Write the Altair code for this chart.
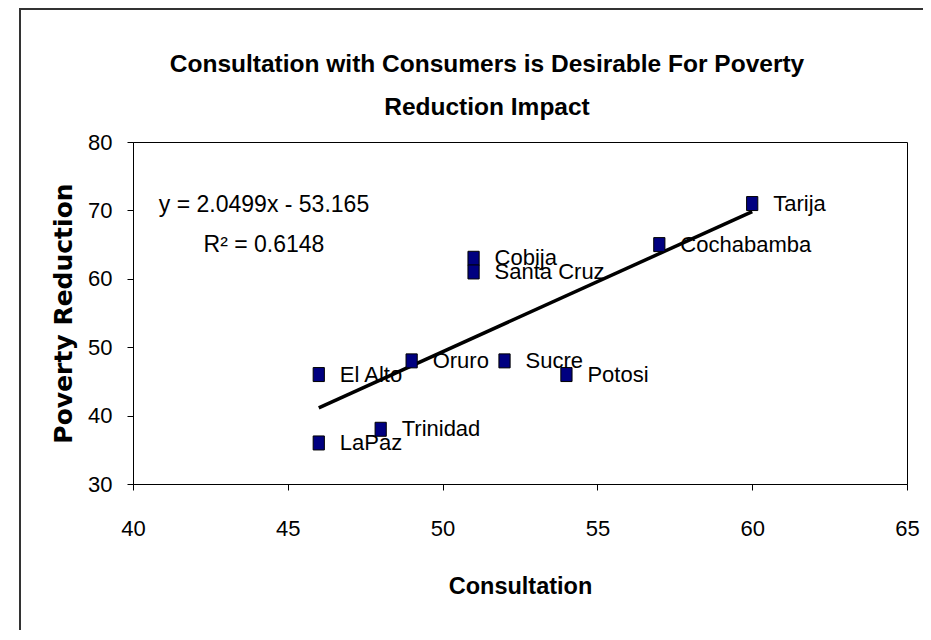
import altair as alt
import numpy as np
import pandas as pd

# ---- data ----
cities = ["Tarija", "Cochabamba", "Cobija", "Santa Cruz", "Oruro",
          "Sucre", "Potosi", "El Alto", "LaPaz", "Trinidad"]
consultation = [60, 57, 51, 51, 49, 52, 54, 46, 46, 48]
poverty = [71, 65, 63, 61, 48, 48, 46, 46, 36, 38]

x_ticks = [40, 45, 50, 55, 60, 65]
y_ticks = [30, 40, 50, 60, 70, 80]

title_lines = ["Consultation with Consumers is Desirable For Poverty",
               "Reduction Impact"]

df = pd.DataFrame({"city": cities, "Consultation": consultation,
                   "Poverty": poverty})

# trendline equation (Excel style) from the data
slope, intercept = np.polyfit(consultation, poverty, 1)
r2 = np.corrcoef(consultation, poverty)[0, 1] ** 2
sign = "-" if intercept < 0 else "+"
eq_lines = [f"y = {slope:.4f}x {sign} {abs(intercept):.3f}", f"R\u00b2 = {r2:.4f}"]

FONT = "Liberation Sans, Arial, sans-serif"

x_enc = alt.X("Consultation:Q",
              scale=alt.Scale(domain=[40, 65], nice=False, zero=False),
              axis=alt.Axis(values=x_ticks, title="Consultation",
                            titleY=109, titleBaseline="alphabetic",
                            labelBaseline="alphabetic", labelPadding=45,
                            labelFlush=False, labelOverlap=False))
y_enc = alt.Y("Poverty:Q",
              scale=alt.Scale(domain=[30, 80], nice=False, zero=False),
              axis=alt.Axis(values=y_ticks, title="Poverty Reduction",
                            titleX=-70, titleY=171, titleBaseline="middle",
                            titleAlign="center", titleAngle=270,
                            titleFont="DejaVu Sans", titleFontSize=25,
                            labelPadding=15, labelFlush=False,
                            labelOverlap=False))

base = alt.Chart(df)

marker = "M-0.8,-1L0.8,-1L0.8,1L-0.8,1Z"
points = base.mark_point(shape=marker, size=196, filled=True,
                         fill="#000080", stroke="#000000",
                         strokeWidth=1, opacity=1).encode(x=x_enc, y=y_enc)

trend = base.transform_regression("Consultation", "Poverty").mark_line(
    color="#000000", strokeWidth=3.5).encode(x=x_enc, y=y_enc)

labels = base.mark_text(align="left", baseline="middle", dx=21,
                        fontSize=22, font=FONT, color="#000000").encode(
    x=x_enc, y=y_enc, text="city:N")

one = alt.Data(values=[{"k": 0}])
equation = alt.Chart(one).mark_text(
    text=eq_lines, lineHeight=40, fontSize=23, font=FONT,
    align="center", baseline="alphabetic", color="#000000").encode(
    x=alt.value(131), y=alt.value(70))

title = alt.Chart(one).mark_text(
    text=title_lines, lineHeight=43, fontSize=24.5, font=FONT,
    fontWeight="bold", align="center", baseline="alphabetic",
    color="#000000").encode(x=alt.value(354), y=alt.value(-70))

frame = alt.Chart(one).mark_rect(
    fillOpacity=0, stroke="#333333", strokeWidth=2).encode(
    x=alt.value(-113), x2=alt.value(800),
    y=alt.value(-133), y2=alt.value(500))

chart = alt.layer(frame, trend, points, labels, equation, title).properties(
    width=774, height=342,
    background="#ffffff",
    autosize=alt.AutoSizeParams(type="none"),
    padding={"left": 125, "top": 134, "right": 16, "bottom": 146},
).configure_view(stroke="#000000", strokeWidth=1).configure_axis(
    grid=False, domainColor="#000000", tickColor="#000000", tickSize=6,
    labelColor="#000000", titleColor="#000000", labelFont=FONT,
    labelFontSize=22, titleFont=FONT, titleFontSize=23.5,
    titleFontWeight="bold", domainWidth=1, tickWidth=1
)

chart.save("out.html", embed_options={"renderer": "svg", "actions": False})
